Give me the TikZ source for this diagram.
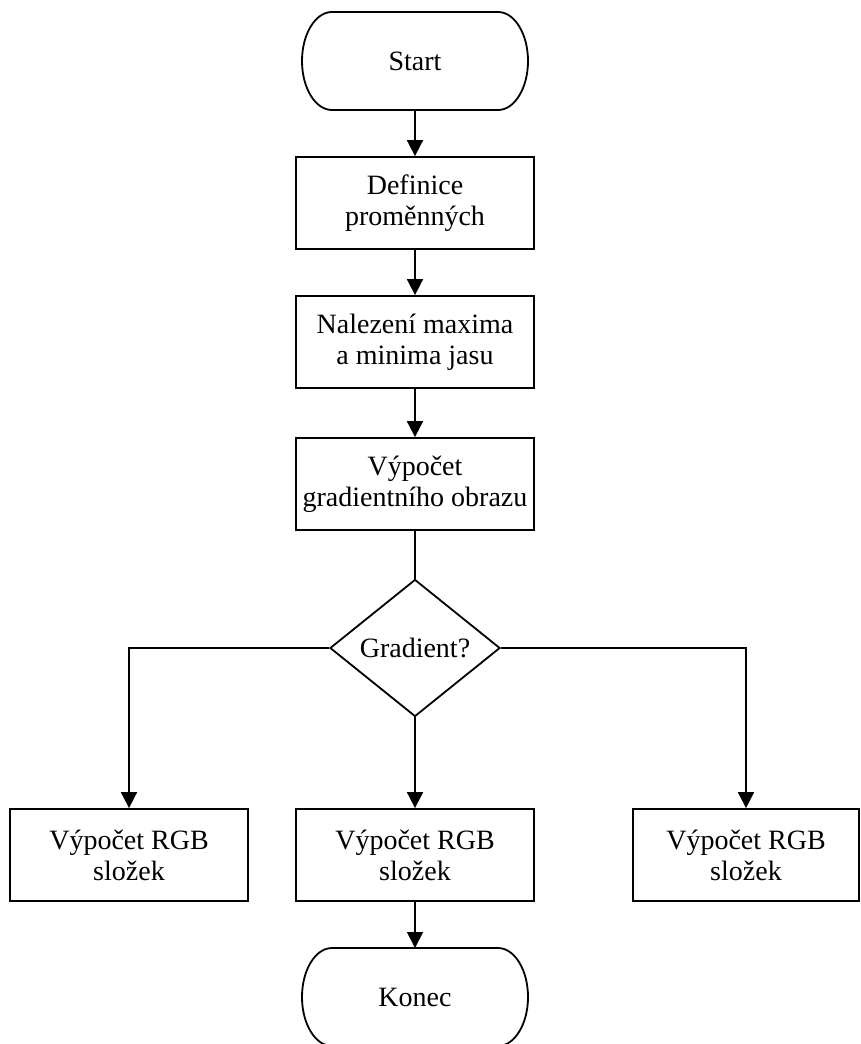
\documentclass[tikz,border=0pt]{standalone}
\usepackage{fontspec}
\setmainfont{Liberation Serif}
\usetikzlibrary{shapes.geometric,arrows.meta,positioning}

% outline of a start/end node: straight top and bottom, half-ellipse ends
\newcommand{\termline}[1]{%
  \draw ([xshift=30pt]#1.north west) -- ([xshift=-30pt]#1.north east)
    arc[start angle=90,end angle=-90,x radius=30pt,y radius=49pt]
    -- ([xshift=30pt]#1.south west)
    arc[start angle=270,end angle=90,x radius=30pt,y radius=49pt] -- cycle;}

\begin{document}
\begin{tikzpicture}[%
>={Triangle[length=16pt,width=16pt]},
line width=1.8pt,
on grid,
font=\fontsize{28}{31}\selectfont,
proc/.style={draw, minimum width=238pt, minimum height=92pt, align=center},
term/.style={minimum width=226pt, minimum height=98pt, outer sep=0pt},
decide/.style={draw, diamond, aspect=1.24, minimum width=170pt,
  minimum height=137pt, inner sep=0pt}
]
\useasboundingbox (0,0) rectangle (861pt,-1044pt);

\node[term] (start) at (415pt,-61pt) {Start};
\node[proc] (def) [below=142pt of start] {Definice\\proměnných};
\node[proc] (max) [below=139pt of def] {Nalezení maxima\\a minima jasu};
\node[proc] (grad) [below=142pt of max] {Výpočet\\gradientního obrazu};

\node[decide] (dia) [below=164pt of grad] {Gradient?};

\node[proc] (mid) [below=207pt of dia] {Výpočet RGB\\složek};
\node[proc] (left) [left=286pt of mid] {Výpočet RGB\\složek};
\node[proc, minimum width=226pt] (right) [right=331pt of mid] {Výpočet RGB\\složek};

\node[term] (end) [below=142pt of mid] {Konec};

\termline{start}
\termline{end}

% main chain
\path[->] (start) edge (def);
\path[->] (def) edge (max);
\path[->] (max) edge (grad);
\path (grad) edge (dia);

% three branches
\draw[->] (dia.west) -| (left.north);
\draw[->] (dia.east) -| (right.north);
\path[->] (dia) edge (mid);

\path[->] (mid) edge (end);
\end{tikzpicture}
\end{document}
